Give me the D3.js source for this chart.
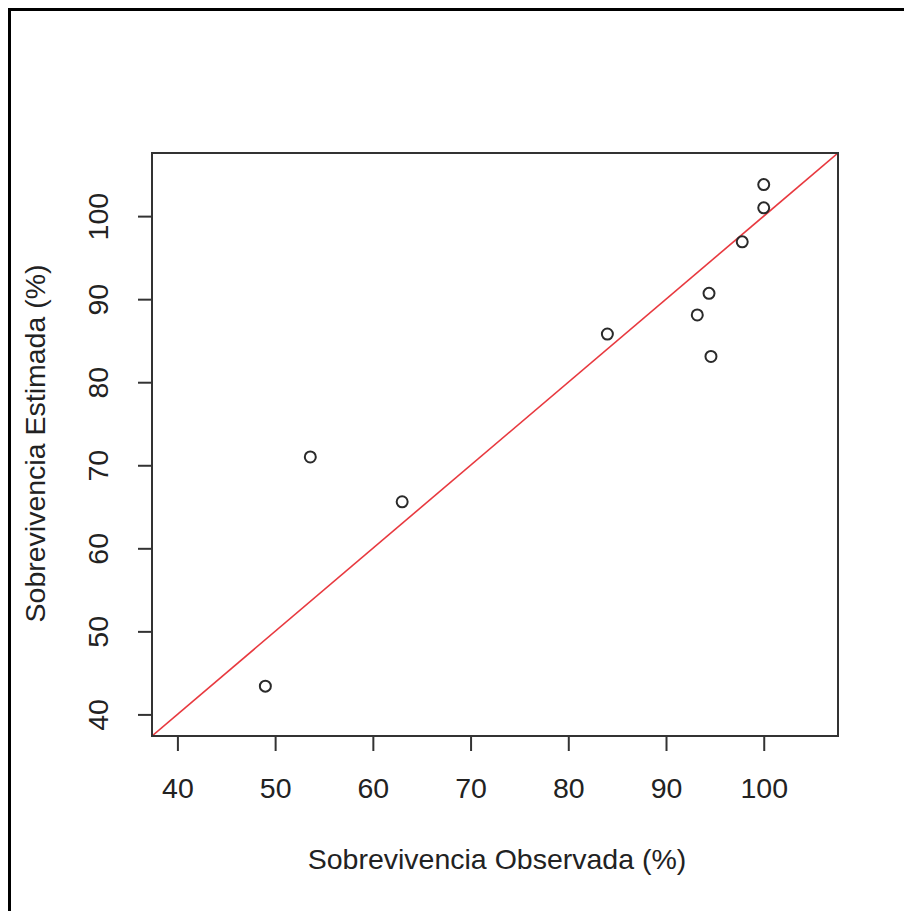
<!DOCTYPE html>
<html>
<head>
<meta charset="utf-8">
<script src="https://cdn.jsdelivr.net/npm/d3@7"></script>
<style>
  body { margin: 0; background: #fff; }
  text { font-family: "Liberation Sans", Arial, sans-serif; fill: #222; }
</style>
</head>
<body>
<div id="chart"></div>
<script>
// observed vs estimated survival (%)
const observada = [49.0, 53.6, 63.0, 84.0, 93.2, 94.4, 94.6, 97.8, 100.0, 100.0];
const estimada  = [43.4, 71.0, 65.6, 85.8, 88.1, 90.7, 83.1, 96.9, 101.0, 103.8];
const ticks = [40, 50, 60, 70, 80, 90, 100];
const lim = [40, 105];
const xLabel = "Sobrevivencia Observada (%)";
const yLabel = "Sobrevivencia Estimada (%)";

const width = 904, height = 911;
const margin = { left: 152, top: 153, right: 838, bottom: 736 };
const fontSize = 28.5;

// R style: pad the limits by 4% on each side
const pad = (lim[1] - lim[0]) * 0.04;
const dom = [lim[0] - pad, lim[1] + pad];

const x = d3.scaleLinear().domain(dom).range([margin.left, margin.right]);
const y = d3.scaleLinear().domain(dom).range([margin.bottom, margin.top]);

const svg = d3.select("#chart").append("svg")
    .attr("width", width)
    .attr("height", height);

// outer frame
svg.append("rect")
    .attr("x", 9.5).attr("y", 9.5)
    .attr("width", width + 20).attr("height", height + 20)
    .attr("fill", "none")
    .attr("stroke", "#000")
    .attr("stroke-width", 3);

// y = x reference line, clipped to plot region
svg.append("clipPath").attr("id", "clip")
  .append("rect")
    .attr("x", margin.left).attr("y", margin.top)
    .attr("width", margin.right - margin.left)
    .attr("height", margin.bottom - margin.top);

svg.append("line")
    .attr("clip-path", "url(#clip)")
    .attr("x1", x(dom[0])).attr("y1", y(dom[0]))
    .attr("x2", x(dom[1])).attr("y2", y(dom[1]))
    .attr("stroke", "#e8393f")
    .attr("stroke-width", 1.6);

// points
const pts = observada.map((v, i) => ({ o: v, e: estimada[i] }));
svg.selectAll("circle.pt")
    .data(pts)
  .enter().append("circle")
    .attr("class", "pt")
    .attr("cx", d => x(d.o))
    .attr("cy", d => y(d.e))
    .attr("r", 5.5)
    .attr("fill", "none")
    .attr("stroke", "#2a2a2a")
    .attr("stroke-width", 2);

// x axis
const xAxis = svg.append("g")
    .attr("transform", "translate(0," + margin.bottom + ")")
    .call(d3.axisBottom(x).tickValues(ticks).tickSize(15).tickPadding(27));
xAxis.select(".domain").remove();
xAxis.selectAll(".tick line").attr("stroke", "#333").attr("stroke-width", 2);
xAxis.selectAll(".tick text")
    .attr("font-size", fontSize)
    .attr("fill", "#222")
    .attr("font-family", "Liberation Sans, Arial, sans-serif");

// y axis, labels rotated like R's las=0
const yAxis = svg.append("g")
    .attr("transform", "translate(" + margin.left + ",0)")
    .call(d3.axisLeft(y).tickValues(ticks).tickSize(14));
yAxis.select(".domain").remove();
yAxis.selectAll(".tick line").attr("stroke", "#333").attr("stroke-width", 2);
yAxis.selectAll(".tick text")
    .attr("x", null).attr("dy", null)
    .attr("transform", "translate(-44,0) rotate(-90)")
    .attr("text-anchor", "middle")
    .attr("font-size", fontSize)
    .attr("fill", "#222")
    .attr("font-family", "Liberation Sans, Arial, sans-serif");

// plot box
svg.append("rect")
    .attr("x", margin.left).attr("y", margin.top)
    .attr("width", margin.right - margin.left)
    .attr("height", margin.bottom - margin.top)
    .attr("fill", "none")
    .attr("stroke", "#333")
    .attr("stroke-width", 2);

// axis titles
svg.append("text")
    .attr("x", (margin.left + margin.right) / 2 + 2)
    .attr("y", 869)
    .attr("text-anchor", "middle")
    .attr("font-size", fontSize)
    .text(xLabel);

svg.append("text")
    .attr("transform", "translate(45," + ((margin.top + margin.bottom) / 2 - 1) + ") rotate(-90)")
    .attr("text-anchor", "middle")
    .attr("font-size", fontSize)
    .text(yLabel);
</script>
</body>
</html>
